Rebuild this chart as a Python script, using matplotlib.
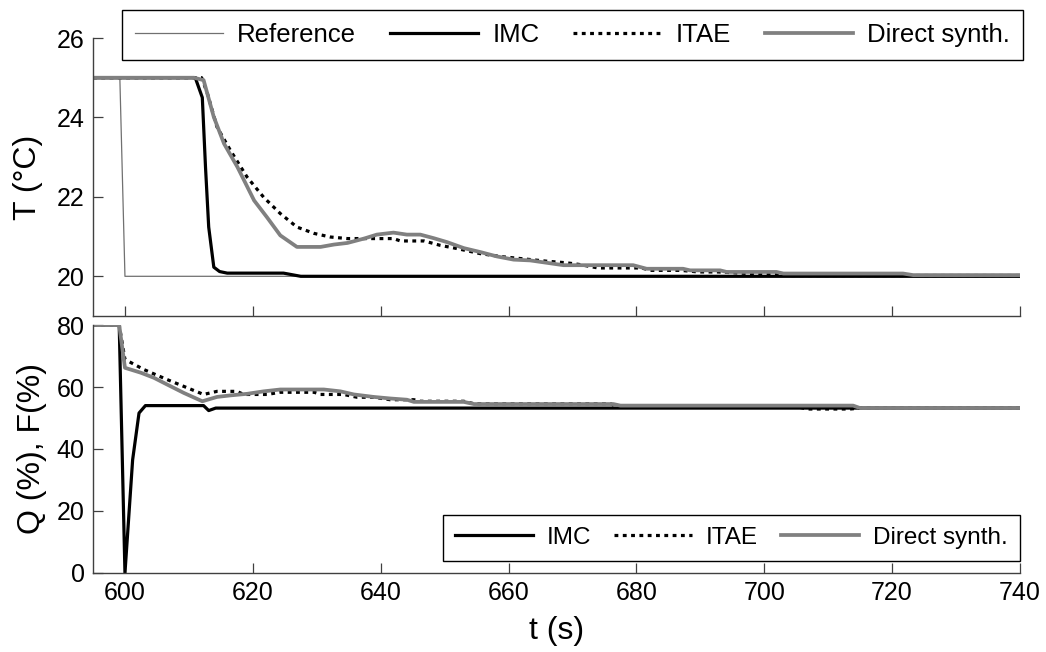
# Temperature and heater/fan response for three controller tunings (IMC, ITAE, direct synthesis)

import matplotlib.pyplot as plt

plt.rcParams['font.family'] = ['Liberation Sans', 'DejaVu Sans']

# Top plot: temperature T (°C)
t_ref = [595, 599.2, 600, 740]
T_ref = [25, 25, 20, 20]

t_imc_T = [595, 611.0, 612.1, 612.6, 613.1, 613.9, 614.8, 616.0, 624.8, 627.5, 740]
T_imc = [25, 25, 24.5, 22.75, 21.24, 20.23, 20.12, 20.08, 20.08, 20.0, 20.0]

t_itae_T = [595, 612.0, 612.9, 614.4, 616.5, 619.1, 621.7, 624.3, 626.9, 629.6, 632.1, 634.8,
            642.0, 643.1, 646.8, 649.3, 651.9, 655.6, 659.2, 662.3, 666.0, 669.1, 671.0, 674.0,
            680.8, 682.2, 686.9, 689.7, 692.8, 700.0, 702.0, 704.0, 740]
T_itae = [25, 25, 24.60, 23.76, 23.17, 22.50, 21.99, 21.58, 21.24, 21.08, 20.99, 20.95,
          20.95, 20.89, 20.89, 20.78, 20.70, 20.57, 20.49, 20.44, 20.38, 20.34, 20.30, 20.21,
          20.21, 20.15, 20.15, 20.11, 20.11, 20.05, 20.05, 20.02, 20.02]

t_ds_T = [595, 610.8, 612.3, 613.9, 615.5, 617.6, 620.2, 622.2, 624.3, 626.9, 630.6, 632.7,
          634.8, 637.4, 639.4, 642.0, 644.1, 646.2, 648.3, 650.4, 653.0, 655.6, 658.2, 660.8,
          663.4, 666.0, 668.6, 679.5, 681.6, 687.3, 688.4, 693.1, 694.1, 701.9, 703.0, 721.7,
          723.3, 740]
T_ds = [25, 25, 24.94, 24.01, 23.34, 22.75, 21.91, 21.49, 21.03, 20.74, 20.74, 20.80,
        20.84, 20.95, 21.05, 21.10, 21.05, 21.05, 20.96, 20.86, 20.71, 20.61, 20.50, 20.42,
        20.40, 20.34, 20.28, 20.28, 20.19, 20.19, 20.15, 20.15, 20.11, 20.11, 20.07, 20.07,
        20.03, 20.03]

# Bottom plot: Q (%), F (%)
t_imc_Q = [595, 599.1, 600.0, 601.2, 602.2, 603.2, 612.3, 613.1, 614.2, 740]
Q_imc = [80, 80, 0, 36.5, 51.6, 54.0, 54.0, 52.4, 53.2, 53.2]

t_itae_Q = [595, 599.1, 600.0, 603.0, 606.6, 609.8, 612.3, 614.4, 617.5, 618.6, 622.2, 624.3,
            629.6, 630.6, 634.2, 636.3, 638.9, 641.5, 645.2, 646.2, 653.0, 654.6, 676.0, 677.0,
            705.5, 706.6, 713.4, 714.5, 740]
Q_itae = [80, 80, 68.9, 65.6, 62.4, 59.7, 57.6, 58.6, 58.6, 57.6, 57.6, 58.3,
          58.3, 57.6, 57.6, 56.7, 56.7, 55.9, 55.9, 55.4, 55.4, 54.6, 54.6, 53.5,
          53.5, 52.9, 52.9, 53.1, 53.1]

t_ds_Q = [595, 599.1, 600.0, 602.5, 604.5, 606.6, 609.2, 612.1, 614.4, 616.5, 619.1, 621.7,
          624.3, 631.1, 633.7, 635.8, 638.9, 641.5, 644.1, 645.2, 653.0, 654.6, 676.4, 677.5,
          713.9, 715.0, 740]
Q_ds = [80, 80, 66.2, 64.6, 63.0, 60.8, 58.1, 55.4, 56.8, 57.3, 57.8, 58.6,
        59.2, 59.2, 58.6, 57.6, 56.8, 56.3, 55.9, 55.2, 55.2, 54.5, 54.5, 54.0,
        54.0, 53.2, 53.2]

xticks = [600, 620, 640, 660, 680, 700, 720, 740]

gray = '#808080'
dots = (0, (1.2, 1.4))

fig = plt.figure(figsize=(10.46, 6.52), dpi=100)
ax1 = fig.add_axes([0.0889, 0.5153, 0.8862, 0.4264])
ax2 = fig.add_axes([0.0889, 0.1212, 0.8862, 0.3803])

# Top plot
ax1.plot(t_ref, T_ref, color='#707070', lw=0.9, label='Reference')
ax1.plot(t_imc_T, T_imc, color='black', lw=2.3, label='IMC')
ax1.plot(t_itae_T, T_itae, color='black', lw=2.3, linestyle=dots, label='ITAE')
ax1.plot(t_ds_T, T_ds, color=gray, lw=2.7, label='Direct synth.')
ax1.set_xlim(595, 740)
ax1.set_ylim(19, 26)
ax1.set_yticks([20, 22, 24, 26])
ax1.set_xticks(xticks)
ax1.set_xticklabels([])
ax1.set_ylabel('T (°C)', fontsize=23, labelpad=10)
ax1.legend(loc='upper right', ncol=4, bbox_to_anchor=(1023 / 1046, 1 - 10 / 652),
           bbox_transform=fig.transFigure, borderaxespad=0, fontsize=18.5,
           handlelength=3.45, handletextpad=0.55, columnspacing=1.3,
           fancybox=False, framealpha=1, edgecolor='black', borderpad=0.5)

# Bottom plot
ax2.plot(t_imc_Q, Q_imc, color='black', lw=2.3, label='IMC')
ax2.plot(t_itae_Q, Q_itae, color='black', lw=2.3, linestyle=dots, label='ITAE')
ax2.plot(t_ds_Q, Q_ds, color=gray, lw=2.7, label='Direct synth.')
ax2.set_xlim(595, 740)
ax2.set_ylim(0, 80)
ax2.set_yticks([0, 20, 40, 60, 80])
ax2.set_xticks(xticks)
ax2.set_ylabel('Q (%), F(%)', fontsize=23, labelpad=7)
ax2.set_xlabel('t (s)', fontsize=23, labelpad=8)
ax2.legend(loc='lower right', ncol=3, bbox_to_anchor=(1, 12 / 248),
           borderaxespad=0, fontsize=17.5,
           handlelength=3.2, handletextpad=0.58, columnspacing=0.95,
           fancybox=False, framealpha=1, edgecolor='black', borderpad=0.5)

for ax in (ax1, ax2):
    ax.spines['top'].set_visible(False)
    ax.spines['right'].set_visible(False)
    for s in ('left', 'bottom'):
        ax.spines[s].set_color('#404040')
        ax.spines[s].set_linewidth(1.0)
    ax.tick_params(direction='in', length=7, width=0.9, color='#404040',
                   labelsize=18, pad=6)

plt.savefig('out.png', dpi=100)
